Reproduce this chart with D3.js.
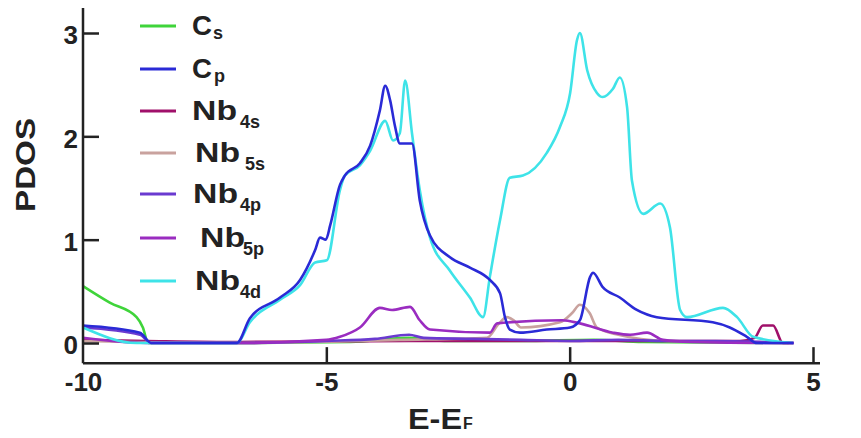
<!DOCTYPE html>
<html>
<head>
<meta charset="utf-8">
<script src="https://cdn.jsdelivr.net/npm/d3@7"></script>
<style>
  body { margin: 0; background: #fff; }
  svg { display: block; font-family: "Liberation Sans", Arial, sans-serif; font-weight: bold; }
</style>
</head>
<body>
<svg id="chart" width="861" height="438"></svg>
<script>
// energy (eV) / pdos values
const csE   = [-10, -9.45, -8.9, -8.77, -8.66, -6.8, -4.5, -3.3, -2.5, -1, 0.5, 1.5, 4.5];
const csDos = [0.55, 0.39, 0.25, 0.15, 0, 0, 0.01, 0.05, 0.02, 0.02, 0.03, 0.01, 0];

const cpE   = [-10, -8.83, -8.6, -6.84, -6.57, -5.95, -5.54, -5.23, -5.13, -5.01, -4.92, -4.72, -4.62, -4.31, -4.10, -3.90, -3.79, -3.69, -3.59, -3.49, -3.24, -3.08, -2.87, -2.46, -2.05, -1.64, -1.43, -1.33, -1.23, -1.02, -0.47, 0.01, 0.21, 0.42, 0.48, 0.68, 1.03, 1.38, 1.79, 2.94, 3.29, 3.64, 3.85, 4.6];
const cpDos = [0.17, 0.1, 0, 0, 0.24, 0.44, 0.61, 0.9, 1.02, 1.0, 1.14, 1.53, 1.62, 1.74, 1.91, 2.25, 2.49, 2.35, 2.1, 1.93, 1.93, 1.38, 1.04, 0.83, 0.73, 0.61, 0.48, 0.25, 0.13, 0.1, 0.13, 0.15, 0.22, 0.64, 0.68, 0.54, 0.44, 0.32, 0.25, 0.2, 0.15, 0.06, 0, 0];

const nb4sE   = [-10, -8.7, -6.8, -3.3, -1.5, 0, 2, 3.5, 3.8, 3.97, 4.18, 4.38, 4.6];
const nb4sDos = [0.03, 0.02, 0.01, 0.02, 0.02, 0.02, 0.02, 0.02, 0.05, 0.17, 0.17, 0, 0];

const nb5sE   = [-10, -6.8, -3.5, -1.7, -1.45, -1.29, -1.15, -1.0, -0.2, 0.05, 0.21, 0.41, 0.56, 1.0, 2.0, 4.6];
const nb5sDos = [0.02, 0, 0.03, 0.05, 0.19, 0.25, 0.22, 0.15, 0.2, 0.29, 0.37, 0.29, 0.15, 0.08, 0.02, 0];

const nb4pE   = [-10, -8.83, -8.6, -6.8, -5, -4, -3.3, -3.0, -2, -1, 0, 1, 2, 3, 4, 4.6];
const nb4pDos = [0.15, 0.08, 0, 0, 0.02, 0.04, 0.08, 0.05, 0.04, 0.03, 0.02, 0.03, 0.02, 0.02, 0.01, 0];

const nb5pE   = [-10, -8.7, -6.8, -5, -4.72, -4.31, -3.90, -3.65, -3.28, -3.08, -2.87, -1.64, -1.49, -0.15, 0.21, 0.89, 1.24, 1.59, 1.92, 2.5, 4.0, 4.6];
const nb5pDos = [0.05, 0, 0, 0.03, 0.06, 0.15, 0.34, 0.32, 0.35, 0.22, 0.13, 0.1, 0.19, 0.22, 0.19, 0.1, 0.08, 0.1, 0.03, 0.01, 0, 0];

const nb4dE   = [-10, -8.9, -6.84, -6.57, -5.95, -5.54, -5.23, -4.99, -4.72, -4.62, -4.31, -4.10, -3.79, -3.63, -3.49, -3.38, -3.24, -3.08, -2.87, -2.46, -2.05, -1.78, -1.64, -1.43, -1.23, -0.96, -0.47, -0.20, 0.01, 0.15, 0.21, 0.36, 0.56, 0.68, 0.89, 1.03, 1.18, 1.28, 1.51, 1.86, 2.06, 2.27, 2.41, 3.15, 3.44, 3.77, 4.59];
const nb4dDos = [0.15, 0, 0, 0.2, 0.42, 0.56, 0.78, 0.8, 1.48, 1.62, 1.72, 1.86, 2.15, 1.96, 2.03, 2.54, 2.03, 1.48, 1.02, 0.7, 0.44, 0.25, 0.64, 1.19, 1.6, 1.62, 1.84, 2.09, 2.42, 2.93, 3.0, 2.64, 2.42, 2.38, 2.46, 2.57, 2.28, 1.57, 1.25, 1.35, 1.12, 0.32, 0.25, 0.34, 0.25, 0.06, 0];

const seriesNames = ["Cs", "Cp", "Nb4s", "Nb5s", "Nb4p", "Nb5p", "Nb4d"];
const legendMain  = ["C", "C", "Nb", "Nb", "Nb", "Nb", "Nb"];
const legendSub   = ["s", "p", "4s", "5s", "4p", "5p", "4d"];
const xTicks = [-10, -5, 0, 5];
const yTicks = [0, 1, 2, 3];

const series = [
  { name: "Cs",   e: csE,   d: csDos,   color: "#3fd43a" },
  { name: "Cp",   e: cpE,   d: cpDos,   color: "#2a2ad6" },
  { name: "Nb4s", e: nb4sE, d: nb4sDos, color: "#a0106a" },
  { name: "Nb5s", e: nb5sE, d: nb5sDos, color: "#c9a29e" },
  { name: "Nb4p", e: nb4pE, d: nb4pDos, color: "#6a3ad0" },
  { name: "Nb5p", e: nb5pE, d: nb5pDos, color: "#9a2cc0" },
  { name: "Nb4d", e: nb4dE, d: nb4dDos, color: "#3ee3e8" }
];

const svg = d3.select("#chart");
const x = d3.scaleLinear().domain([-10, 5]).range([83, 813]);
const y = d3.scaleLinear().domain([0, 3]).range([343, 33]);

const line = d3.line()
  .x(p => x(p[0])).y(p => y(p[1]))
  .curve(d3.curveMonotoneX);

// draw order: small ones first, Nb4d, then Cp
const order = ["Cs", "Nb4s", "Nb5s", "Nb4p", "Nb5p", "Nb4d", "Cp"];
order.forEach(n => {
  const s = series.find(q => q.name === n);
  svg.append("path")
    .datum(d3.zip(s.e, s.d))
    .attr("d", line)
    .attr("fill", "none")
    .attr("stroke", s.color)
    .attr("stroke-width", 2.6)
    .attr("stroke-linejoin", "round");
});

// axes
const axisY = y(-0.195);
const xAxis = d3.axisBottom(x).tickValues(xTicks).tickSize(-16).tickPadding(7).tickFormat(d => String(d));
const gx = svg.append("g").attr("transform", `translate(0,${axisY})`).call(xAxis);
gx.select(".domain").attr("d", `M${x(-10)},0H${x(5) + 7}`);

const yAxis = d3.axisLeft(y).tickValues(yTicks).tickSize(-16).tickPadding(5).tickFormat(d => String(d));
const gy = svg.append("g").attr("transform", `translate(${x(-10)},0)`).call(yAxis);
gy.select(".domain").attr("d", `M0,${axisY}V8`);

svg.selectAll(".domain, .tick line").attr("stroke", "#222").attr("stroke-width", 2.5);
svg.selectAll(".tick text").attr("font-size", 26).attr("font-weight", "bold").attr("fill", "#222")
  .attr("font-family", "Liberation Sans, Arial, sans-serif");
gx.selectAll(".tick text").attr("dy", "0.8em");
gx.selectAll(".tick").filter(d => d === -10).select("line").remove();
gy.selectAll(".tick text").attr("dy", "0.42em");

// axis titles
svg.append("text")
  .attr("transform", "translate(35,165) rotate(-90)")
  .attr("text-anchor", "middle")
  .attr("font-size", 28).attr("fill", "#222")
  .attr("textLength", 94).attr("lengthAdjust", "spacingAndGlyphs")
  .text("PDOS");

svg.append("text").attr("x", 408).attr("y", 429).attr("font-size", 30).attr("fill", "#222")
  .attr("textLength", 54).attr("lengthAdjust", "spacingAndGlyphs")
  .text("E-E");
svg.append("text").attr("x", 463).attr("y", 429).attr("font-size", 16).attr("fill", "#222").text("F");

// legend
const legendY = [26, 69, 111, 153, 194, 238, 281];
const legendTextX = [192, 192, 192, 195, 193, 200, 195];
const legendSubX  = [213, 214, 240, 245, 240, 243, 240];
series.forEach((s, i) => {
  const ly = legendY[i];
  svg.append("line")
    .attr("x1", 140).attr("x2", 176).attr("y1", ly).attr("y2", ly)
    .attr("stroke", s.color).attr("stroke-width", 2.8);
  const isC = legendMain[i] === "C";
  svg.append("text")
    .attr("x", legendTextX[i]).attr("y", ly + 9)
    .attr("font-size", 28).attr("fill", "#222")
    .attr("textLength", isC ? 20 : 45).attr("lengthAdjust", "spacingAndGlyphs")
    .text(legendMain[i]);
  svg.append("text")
    .attr("x", legendSubX[i]).attr("y", ly + (isC ? 13 : 17))
    .attr("font-size", 18).attr("fill", "#222")
    .text(legendSub[i]);
});
</script>
</body>
</html>
